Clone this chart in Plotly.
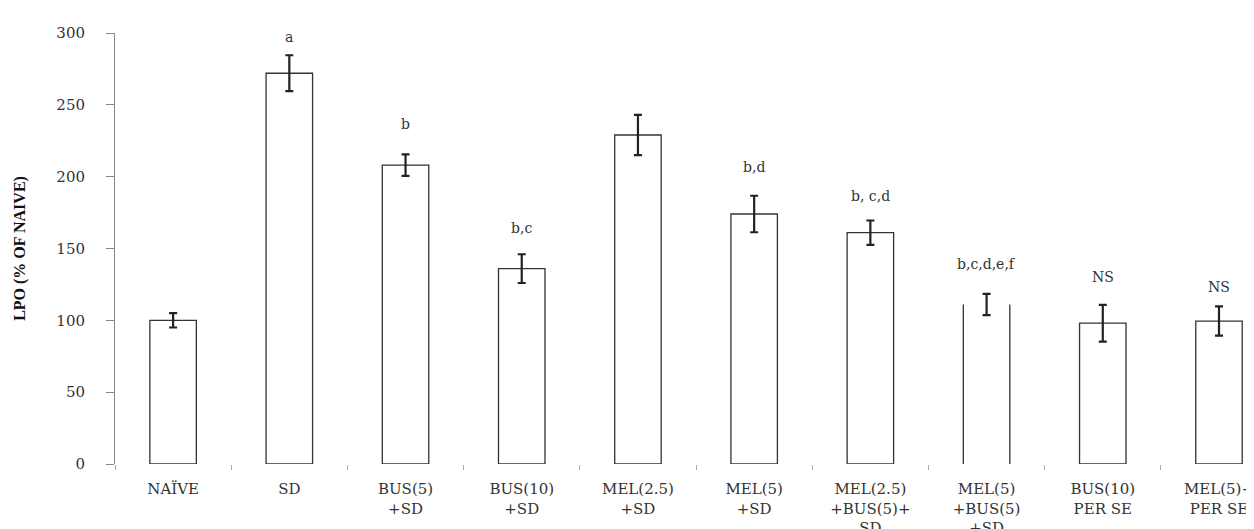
import plotly.graph_objects as go

categories = ["NAÏVE", "SD", "BUS(5)<br>+SD", "BUS(10)<br>+SD", "MEL(2.5)<br>+SD",
              "MEL(5)<br>+SD", "MEL(2.5)<br>+BUS(5)+<br>SD", "MEL(5)<br>+BUS(5)<br>+SD",
              "BUS(10)<br>PER SE", "MEL(5)+<br>PER SE"]
lpo_mean = [100, 272, 208, 136, 229, 174, 161, 111, 98, 99.5]
lpo_sem = [5, 12.5, 7.5, 10, 14, 12.7, 8.5, 7.4, 12.8, 10.2]
sig_labels = ["", "a", "b", "b,c", "", "b,d", "b, c,d", "b,c,d,e,f", "NS", "NS"]
label_y = [None, 294, 233, 161, None, 203, 183, 136, 127, 120]
open_top_index = 7  # bar drawn without its top edge in the original

FONT = "DejaVu Serif"
BAR_W = 0.4
x_pos = list(range(len(categories)))

line_widths = [0 if i == open_top_index else 1.3 for i in x_pos]

fig = go.Figure()
fig.add_trace(go.Bar(
    x=x_pos, y=lpo_mean, width=BAR_W,
    marker=dict(color="white", line=dict(color="#333333", width=line_widths)),
    error_y=dict(type="data", array=lpo_sem, visible=True,
                 color="#222222", thickness=2.2, width=4),
    showlegend=False, hoverinfo="skip",
))

# open-topped bar: only its two sides
i = open_top_index
v = lpo_mean[i]
fig.add_trace(go.Scatter(
    x=[i - BAR_W / 2, i - BAR_W / 2, None, i + BAR_W / 2, i + BAR_W / 2],
    y=[0, v, None, 0, v], mode="lines",
    line=dict(color="#333333", width=1.3), showlegend=False, hoverinfo="skip",
))

for xi, (txt, ly) in enumerate(zip(sig_labels, label_y)):
    if txt and ly is not None:
        fig.add_annotation(x=xi, y=ly, text=txt, showarrow=False, yshift=5,
                           font=dict(family=FONT, size=14, color="#333333"))

fig.update_layout(
    width=1254, height=529,
    margin=dict(l=107, r=0, t=25, b=65),
    paper_bgcolor="white", plot_bgcolor="white",
    font=dict(family=FONT, color="#333333"),
    bargap=0.6,
)
fig.update_xaxes(
    range=[-0.5, 9.37], tickmode="array", tickvals=x_pos, ticktext=categories,
    showline=False, showgrid=False, zeroline=False, ticks="",
    tickfont=dict(family=FONT, size=15, color="#333333"),
    ticklabelstandoff=14,
    minor=dict(ticks="outside", tick0=0.5, dtick=1, ticklen=5,
               tickcolor="#aaaaaa", showgrid=False),
)
fig.update_yaxes(
    range=[0, 300], tickmode="array", tickvals=[0, 50, 100, 150, 200, 250, 300],
    showline=True, linecolor="#888888", linewidth=1,
    ticks="outside", ticklen=8, tickcolor="#888888",
    showgrid=False, zeroline=False,
    tickfont=dict(family=FONT, size=15, color="#333333"),
    ticklabelstandoff=18,
    title=dict(text="<b>LPO (% OF NAIVE)</b>",
               font=dict(family="Liberation Serif", size=16, color="#111111"),
               standoff=26),
)

fig.write_html("out.html")
